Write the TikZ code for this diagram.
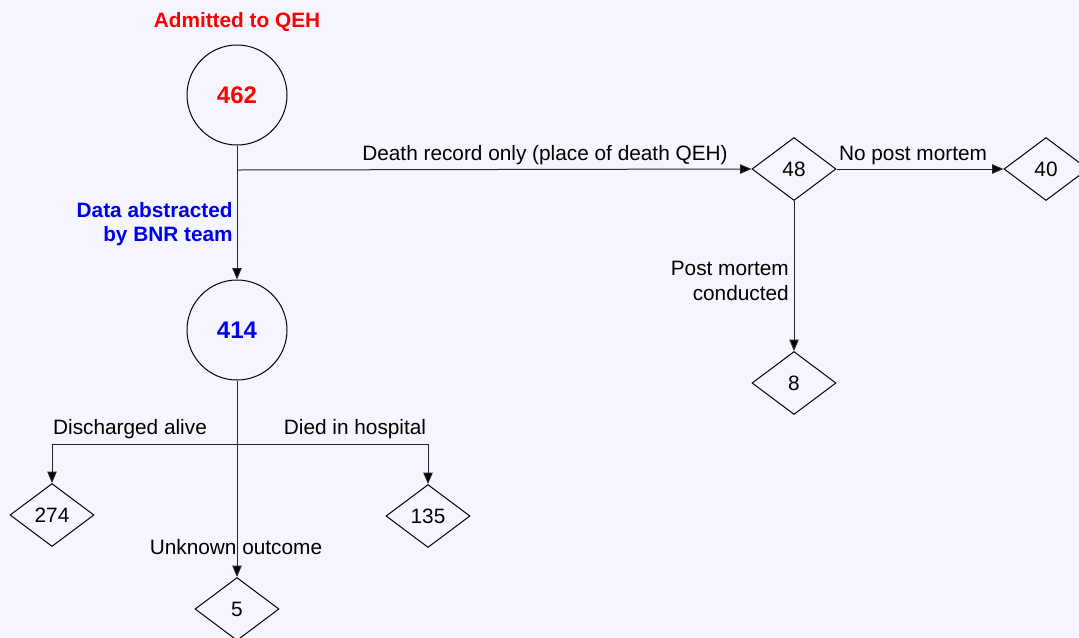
\documentclass[tikz,border=0pt]{standalone}
\usepackage{fontspec}
\setmainfont{Liberation Sans}
\usetikzlibrary{shapes.geometric,arrows.meta}
\definecolor{bgcol}{HTML}{F5F5FF}
\definecolor{redtxt}{HTML}{FF0000}
\definecolor{bluetxt}{HTML}{0000F0}
\tikzset{
  lbl/.style={inner sep=0pt, font=\fontsize{15.6pt}{18.4pt}\selectfont},
  circnode/.style={circle, draw=black, line width=0.75pt, minimum size=75pt, inner sep=0pt, font=\fontsize{18pt}{20pt}\selectfont\bfseries},
  dia/.style={diamond, draw=black, line width=0.75pt, minimum width=63pt, minimum height=47.25pt, inner sep=0pt, font=\fontsize{15.6pt}{18pt}\selectfont},
  conn/.style={draw=black!85, line width=0.75pt},
  arr/.style={conn, -{Triangle[length=8.5pt,width=7pt,fill=black]}},
}
\begin{document}
\begin{tikzpicture}[x=0.75pt,y=-0.75pt]
\useasboundingbox (0,0) rectangle (1079,637);
\fill[bgcol] (0,0) rectangle (1079,637);
\clip (0,0) rectangle (1079,637);

\node[lbl, text=redtxt, font=\fontsize{15.6pt}{18.4pt}\selectfont\bfseries] (title) at (237,22) {Admitted to QEH};
\node[circnode, text=redtxt] (c462) at (237,95) {462};
\node[circnode, text=bluetxt] (c414) at (237,330) {414};

\node[dia] (d48) at (794,169) {48};
\node[dia] (d40) at (1046,169) {40};
\node[dia] (d8) at (794,383) {8};
\node[dia] (d274) at (52,515) {274};
\node[dia] (d135) at (428,516) {135};
\node[dia] (d5) at (237,609) {5};

\coordinate (j1) at (237,170);
\coordinate (j2) at (237,444);

\draw[arr] (c462.south) -- (c414.north);
\draw[arr] (j1) -- (d48.west);
\draw[arr] (d48.east) -- (d40.west);
\draw[arr] (d48.south) -- (d8.north);
\draw[arr] (c414.south) -- (d5.north);
\draw[arr] (j2) -| (d274.north);
\draw[arr] (j2) -| (d135.north);

\node[lbl] (ldeath) at (545,155) {Death record only (place of death QEH)};
\node[lbl] (lnopm) at (913,155) {No post mortem};
\node[lbl, anchor=east, align=right] (lpm) at (789,281) {Post mortem\\conducted};
\node[lbl, anchor=east, align=right, text=bluetxt, font=\fontsize{15.6pt}{18.4pt}\selectfont\bfseries] (lbnr) at (233,224) {Data abstracted\\by BNR team};
\node[lbl] (ldis) at (130,429) {Discharged alive};
\node[lbl] (ldied) at (355,429) {Died in hospital};
\node[lbl] (lunk) at (236,547) {Unknown outcome};
\end{tikzpicture}
\end{document}
